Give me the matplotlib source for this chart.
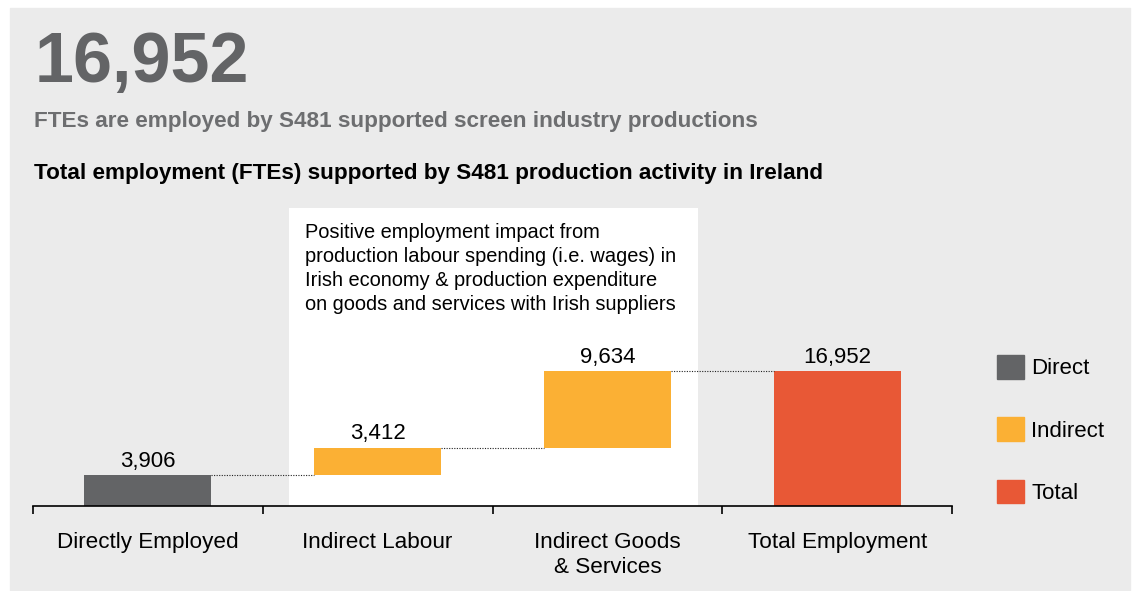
import matplotlib.pyplot as plt
from matplotlib.patches import Patch, Rectangle

plt.rcParams['font.family'] = ['Liberation Sans', 'DejaVu Sans']

# data
categories = ['Directly Employed', 'Indirect Labour', 'Indirect Goods\n& Services', 'Total Employment']
values = [3906, 3412, 9634, 16952]
kinds = ['Direct', 'Indirect', 'Indirect', 'Total']
legend_labels = ['Direct', 'Indirect', 'Total']

colors = {'Direct': '#636466', 'Indirect': '#fbb034', 'Total': '#e85836'}
panel = '#ebebeb'

W, H = 1133, 591
fig = plt.figure(figsize=(W / 100, H / 100), dpi=100)
fig.patch.set_facecolor('white')
fig.patches.append(Rectangle((10 / W, 1 - 590 / H), 1120 / W, 582 / H,
                             transform=fig.transFigure, color=panel, zorder=-10))

fig.text(35 / W, 1 - 82 / H, '16,952', fontsize=50.5, fontweight='bold',
         color='#636466', va='baseline')
fig.text(34 / W, 1 - 127 / H, 'FTEs are employed by S481 supported screen industry productions',
         fontsize=16.2, fontweight='bold', color='#6d6e70', va='baseline')
fig.text(34 / W, 1 - 179 / H, 'Total employment (FTEs) supported by S481 production activity in Ireland',
         fontsize=16.2, fontweight='bold', color='black', va='baseline')

ax = fig.add_axes([33 / W, 85 / H, 919 / W, 298 / H])
ax.set_facecolor('none')

# waterfall bottoms
bottoms = []
run = 0
for v, k in zip(values, kinds):
    if k == 'Total':
        bottoms.append(0)
    else:
        bottoms.append(run)
        run += v
tops = [b + v for b, v in zip(bottoms, values)]

x = list(range(len(categories)))
bw = 0.553
ax.axvspan(0.615, 2.393, color='white', zorder=0, lw=0)
ax.bar(x, values, bottom=bottoms, width=bw,
       color=[colors[k] for k in kinds], zorder=2)

for i in range(len(x) - 1):
    ax.plot([x[i] + bw / 2, x[i + 1] - bw / 2], [tops[i], tops[i]],
            color='#222222', lw=0.8, ls=(0, (1, 1.3)), zorder=3)

for xi, t, v in zip(x, tops, values):
    ax.annotate(f'{v:,}', (xi, t), xytext=(0, 6), textcoords='offset points',
                ha='center', va='baseline', fontsize=16)

ax.text(305 / W, 1 - 223 / H,
        'Positive employment impact from\nproduction labour spending (i.e. wages) in\n'
        'Irish economy & production expenditure\non goods and services with Irish suppliers',
        transform=fig.transFigure, fontsize=14.4, va='top', ha='left', linespacing=1.33)

ax.set_xlim(-0.5, 3.5)
ax.set_ylim(0, 16952 * 298 / 135)
for s in ['top', 'right', 'left']:
    ax.spines[s].set_visible(False)
ax.spines['bottom'].set_linewidth(1.2)
ax.set_yticks([])
ax.set_xticks(x)
ax.set_xticklabels(categories, fontsize=16.2, linespacing=1.25)
ax.tick_params(axis='x', which='major', length=0, pad=18.5)
ax.set_xticks([-0.5, 0.5, 1.5, 2.5, 3.5], minor=True)
ax.tick_params(axis='x', which='minor', length=6, width=1.2, direction='out')

handles = [Patch(color=colors[k]) for k in legend_labels]
fig.legend(handles, legend_labels, loc='upper left',
           bbox_to_anchor=(997 / W, 1 - 355 / H), frameon=False, fontsize=16,
           handlelength=1.2, handleheight=1.25, handletextpad=0.33,
           labelspacing=1.72, borderpad=0, borderaxespad=0)

fig.savefig('out.png', dpi=100)
